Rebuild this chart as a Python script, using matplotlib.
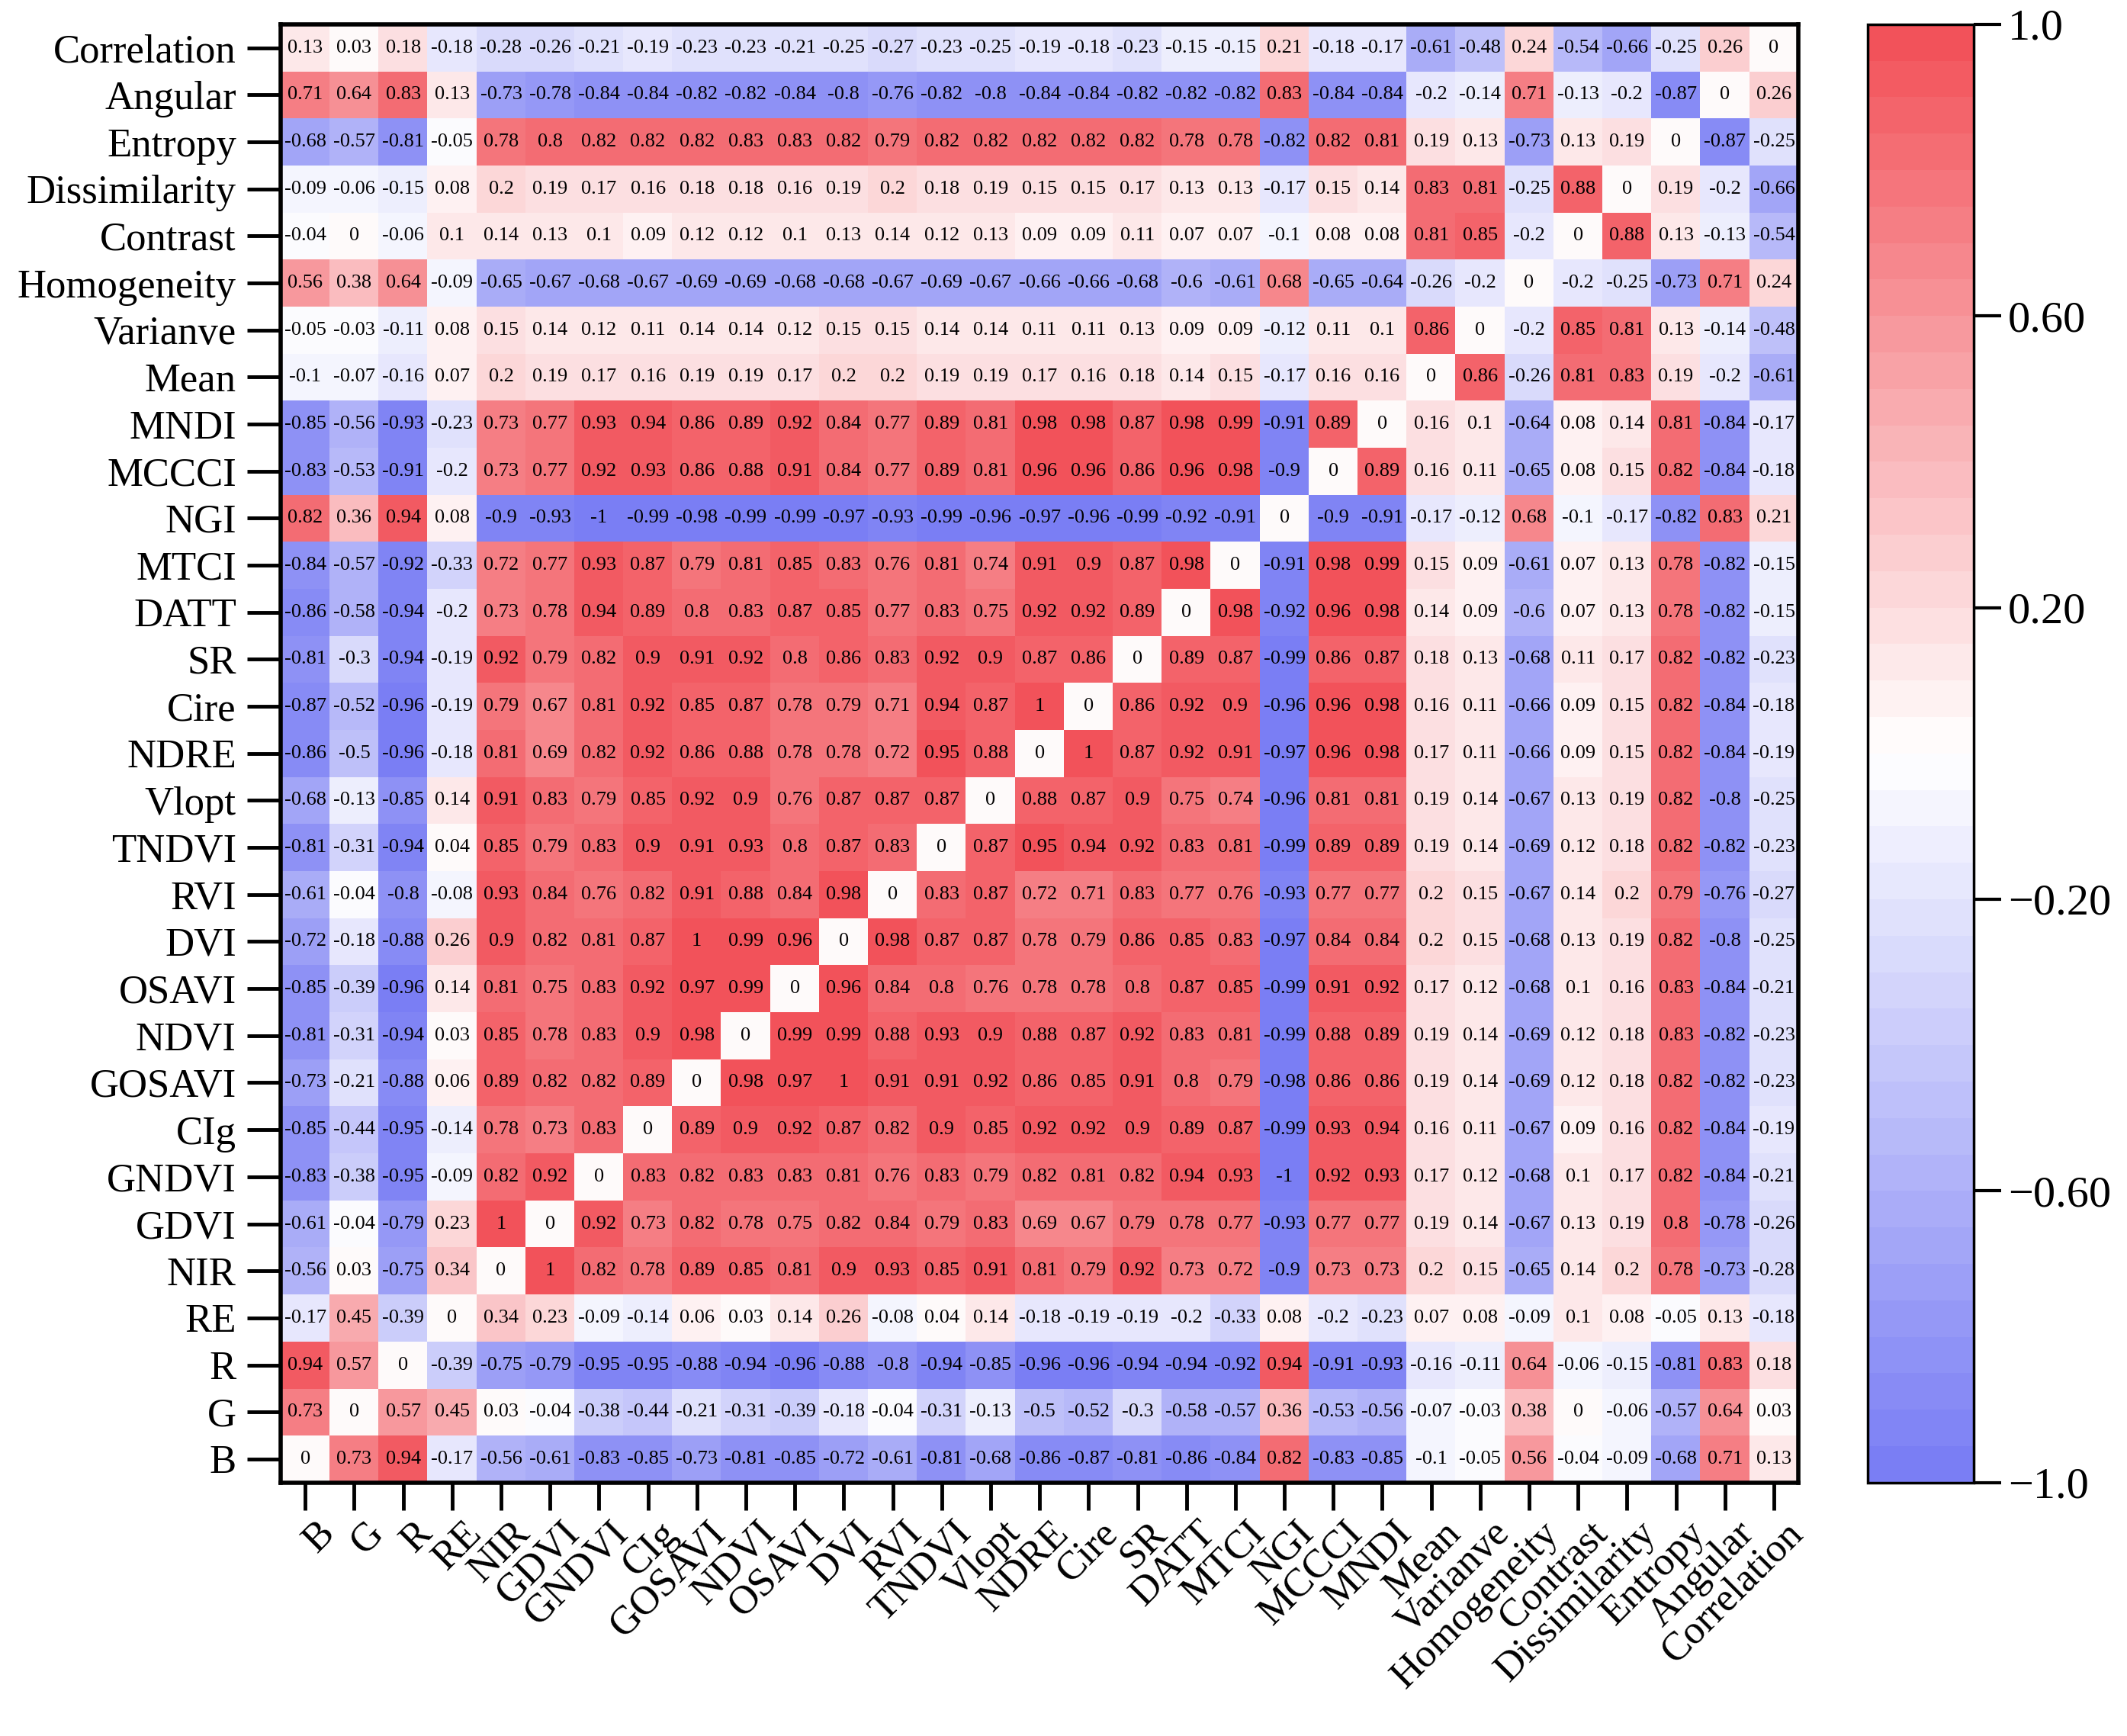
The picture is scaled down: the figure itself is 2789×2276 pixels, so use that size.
import numpy as np
import matplotlib
matplotlib.use('Agg')
import matplotlib.pyplot as plt
import matplotlib.transforms as mtransforms
from matplotlib.colors import LinearSegmentedColormap

# column order (left -> right), rows are shown in reverse (top -> bottom)
names = ['B', 'G', 'R', 'RE', 'NIR', 'GDVI', 'GNDVI', 'CIg', 'GOSAVI', 'NDVI',
         'OSAVI', 'DVI', 'RVI', 'TNDVI', 'Vlopt', 'NDRE', 'Cire', 'SR', 'DATT',
         'MTCI', 'NGI', 'MCCCI', 'MNDI', 'Mean', 'Varianve', 'Homogeneity',
         'Contrast', 'Dissimilarity', 'Entropy', 'Angular', 'Correlation']

# matrix rows, top to bottom as printed in the figure
r_correlation = [0.13, 0.03, 0.18, -0.18, -0.28, -0.26, -0.21, -0.19, -0.23, -0.23, -0.21, -0.25, -0.27, -0.23, -0.25, -0.19, -0.18, -0.23, -0.15, -0.15, 0.21, -0.18, -0.17, -0.61, -0.48, 0.24, -0.54, -0.66, -0.25, 0.26, 0]
r_angular = [0.71, 0.64, 0.83, 0.13, -0.73, -0.78, -0.84, -0.84, -0.82, -0.82, -0.84, -0.8, -0.76, -0.82, -0.8, -0.84, -0.84, -0.82, -0.82, -0.82, 0.83, -0.84, -0.84, -0.2, -0.14, 0.71, -0.13, -0.2, -0.87, 0, 0.26]
r_entropy = [-0.68, -0.57, -0.81, -0.05, 0.78, 0.8, 0.82, 0.82, 0.82, 0.83, 0.83, 0.82, 0.79, 0.82, 0.82, 0.82, 0.82, 0.82, 0.78, 0.78, -0.82, 0.82, 0.81, 0.19, 0.13, -0.73, 0.13, 0.19, 0, -0.87, -0.25]
r_dissim = [-0.09, -0.06, -0.15, 0.08, 0.2, 0.19, 0.17, 0.16, 0.18, 0.18, 0.16, 0.19, 0.2, 0.18, 0.19, 0.15, 0.15, 0.17, 0.13, 0.13, -0.17, 0.15, 0.14, 0.83, 0.81, -0.25, 0.88, 0, 0.19, -0.2, -0.66]
r_contrast = [-0.04, 0, -0.06, 0.1, 0.14, 0.13, 0.1, 0.09, 0.12, 0.12, 0.1, 0.13, 0.14, 0.12, 0.13, 0.09, 0.09, 0.11, 0.07, 0.07, -0.1, 0.08, 0.08, 0.81, 0.85, -0.2, 0, 0.88, 0.13, -0.13, -0.54]
r_homog = [0.56, 0.38, 0.64, -0.09, -0.65, -0.67, -0.68, -0.67, -0.69, -0.69, -0.68, -0.68, -0.67, -0.69, -0.67, -0.66, -0.66, -0.68, -0.6, -0.61, 0.68, -0.65, -0.64, -0.26, -0.2, 0, -0.2, -0.25, -0.73, 0.71, 0.24]
r_var = [-0.05, -0.03, -0.11, 0.08, 0.15, 0.14, 0.12, 0.11, 0.14, 0.14, 0.12, 0.15, 0.15, 0.14, 0.14, 0.11, 0.11, 0.13, 0.09, 0.09, -0.12, 0.11, 0.1, 0.86, 0, -0.2, 0.85, 0.81, 0.13, -0.14, -0.48]
r_mean = [-0.1, -0.07, -0.16, 0.07, 0.2, 0.19, 0.17, 0.16, 0.19, 0.19, 0.17, 0.2, 0.2, 0.19, 0.19, 0.17, 0.16, 0.18, 0.14, 0.15, -0.17, 0.16, 0.16, 0, 0.86, -0.26, 0.81, 0.83, 0.19, -0.2, -0.61]
r_mndi = [-0.85, -0.56, -0.93, -0.23, 0.73, 0.77, 0.93, 0.94, 0.86, 0.89, 0.92, 0.84, 0.77, 0.89, 0.81, 0.98, 0.98, 0.87, 0.98, 0.99, -0.91, 0.89, 0, 0.16, 0.1, -0.64, 0.08, 0.14, 0.81, -0.84, -0.17]
r_mccci = [-0.83, -0.53, -0.91, -0.2, 0.73, 0.77, 0.92, 0.93, 0.86, 0.88, 0.91, 0.84, 0.77, 0.89, 0.81, 0.96, 0.96, 0.86, 0.96, 0.98, -0.9, 0, 0.89, 0.16, 0.11, -0.65, 0.08, 0.15, 0.82, -0.84, -0.18]
r_ngi = [0.82, 0.36, 0.94, 0.08, -0.9, -0.93, -1, -0.99, -0.98, -0.99, -0.99, -0.97, -0.93, -0.99, -0.96, -0.97, -0.96, -0.99, -0.92, -0.91, 0, -0.9, -0.91, -0.17, -0.12, 0.68, -0.1, -0.17, -0.82, 0.83, 0.21]
r_mtci = [-0.84, -0.57, -0.92, -0.33, 0.72, 0.77, 0.93, 0.87, 0.79, 0.81, 0.85, 0.83, 0.76, 0.81, 0.74, 0.91, 0.9, 0.87, 0.98, 0, -0.91, 0.98, 0.99, 0.15, 0.09, -0.61, 0.07, 0.13, 0.78, -0.82, -0.15]
r_datt = [-0.86, -0.58, -0.94, -0.2, 0.73, 0.78, 0.94, 0.89, 0.8, 0.83, 0.87, 0.85, 0.77, 0.83, 0.75, 0.92, 0.92, 0.89, 0, 0.98, -0.92, 0.96, 0.98, 0.14, 0.09, -0.6, 0.07, 0.13, 0.78, -0.82, -0.15]
r_sr = [-0.81, -0.3, -0.94, -0.19, 0.92, 0.79, 0.82, 0.9, 0.91, 0.92, 0.8, 0.86, 0.83, 0.92, 0.9, 0.87, 0.86, 0, 0.89, 0.87, -0.99, 0.86, 0.87, 0.18, 0.13, -0.68, 0.11, 0.17, 0.82, -0.82, -0.23]
r_cire = [-0.87, -0.52, -0.96, -0.19, 0.79, 0.67, 0.81, 0.92, 0.85, 0.87, 0.78, 0.79, 0.71, 0.94, 0.87, 1, 0, 0.86, 0.92, 0.9, -0.96, 0.96, 0.98, 0.16, 0.11, -0.66, 0.09, 0.15, 0.82, -0.84, -0.18]
r_ndre = [-0.86, -0.5, -0.96, -0.18, 0.81, 0.69, 0.82, 0.92, 0.86, 0.88, 0.78, 0.78, 0.72, 0.95, 0.88, 0, 1, 0.87, 0.92, 0.91, -0.97, 0.96, 0.98, 0.17, 0.11, -0.66, 0.09, 0.15, 0.82, -0.84, -0.19]
r_vlopt = [-0.68, -0.13, -0.85, 0.14, 0.91, 0.83, 0.79, 0.85, 0.92, 0.9, 0.76, 0.87, 0.87, 0.87, 0, 0.88, 0.87, 0.9, 0.75, 0.74, -0.96, 0.81, 0.81, 0.19, 0.14, -0.67, 0.13, 0.19, 0.82, -0.8, -0.25]
r_tndvi = [-0.81, -0.31, -0.94, 0.04, 0.85, 0.79, 0.83, 0.9, 0.91, 0.93, 0.8, 0.87, 0.83, 0, 0.87, 0.95, 0.94, 0.92, 0.83, 0.81, -0.99, 0.89, 0.89, 0.19, 0.14, -0.69, 0.12, 0.18, 0.82, -0.82, -0.23]
r_rvi = [-0.61, -0.04, -0.8, -0.08, 0.93, 0.84, 0.76, 0.82, 0.91, 0.88, 0.84, 0.98, 0, 0.83, 0.87, 0.72, 0.71, 0.83, 0.77, 0.76, -0.93, 0.77, 0.77, 0.2, 0.15, -0.67, 0.14, 0.2, 0.79, -0.76, -0.27]
r_dvi = [-0.72, -0.18, -0.88, 0.26, 0.9, 0.82, 0.81, 0.87, 1, 0.99, 0.96, 0, 0.98, 0.87, 0.87, 0.78, 0.79, 0.86, 0.85, 0.83, -0.97, 0.84, 0.84, 0.2, 0.15, -0.68, 0.13, 0.19, 0.82, -0.8, -0.25]
r_osavi = [-0.85, -0.39, -0.96, 0.14, 0.81, 0.75, 0.83, 0.92, 0.97, 0.99, 0, 0.96, 0.84, 0.8, 0.76, 0.78, 0.78, 0.8, 0.87, 0.85, -0.99, 0.91, 0.92, 0.17, 0.12, -0.68, 0.1, 0.16, 0.83, -0.84, -0.21]
r_ndvi = [-0.81, -0.31, -0.94, 0.03, 0.85, 0.78, 0.83, 0.9, 0.98, 0, 0.99, 0.99, 0.88, 0.93, 0.9, 0.88, 0.87, 0.92, 0.83, 0.81, -0.99, 0.88, 0.89, 0.19, 0.14, -0.69, 0.12, 0.18, 0.83, -0.82, -0.23]
r_gosavi = [-0.73, -0.21, -0.88, 0.06, 0.89, 0.82, 0.82, 0.89, 0, 0.98, 0.97, 1, 0.91, 0.91, 0.92, 0.86, 0.85, 0.91, 0.8, 0.79, -0.98, 0.86, 0.86, 0.19, 0.14, -0.69, 0.12, 0.18, 0.82, -0.82, -0.23]
r_cig = [-0.85, -0.44, -0.95, -0.14, 0.78, 0.73, 0.83, 0, 0.89, 0.9, 0.92, 0.87, 0.82, 0.9, 0.85, 0.92, 0.92, 0.9, 0.89, 0.87, -0.99, 0.93, 0.94, 0.16, 0.11, -0.67, 0.09, 0.16, 0.82, -0.84, -0.19]
r_gndvi = [-0.83, -0.38, -0.95, -0.09, 0.82, 0.92, 0, 0.83, 0.82, 0.83, 0.83, 0.81, 0.76, 0.83, 0.79, 0.82, 0.81, 0.82, 0.94, 0.93, -1, 0.92, 0.93, 0.17, 0.12, -0.68, 0.1, 0.17, 0.82, -0.84, -0.21]
r_gdvi = [-0.61, -0.04, -0.79, 0.23, 1, 0, 0.92, 0.73, 0.82, 0.78, 0.75, 0.82, 0.84, 0.79, 0.83, 0.69, 0.67, 0.79, 0.78, 0.77, -0.93, 0.77, 0.77, 0.19, 0.14, -0.67, 0.13, 0.19, 0.8, -0.78, -0.26]
r_nir = [-0.56, 0.03, -0.75, 0.34, 0, 1, 0.82, 0.78, 0.89, 0.85, 0.81, 0.9, 0.93, 0.85, 0.91, 0.81, 0.79, 0.92, 0.73, 0.72, -0.9, 0.73, 0.73, 0.2, 0.15, -0.65, 0.14, 0.2, 0.78, -0.73, -0.28]
r_re = [-0.17, 0.45, -0.39, 0, 0.34, 0.23, -0.09, -0.14, 0.06, 0.03, 0.14, 0.26, -0.08, 0.04, 0.14, -0.18, -0.19, -0.19, -0.2, -0.33, 0.08, -0.2, -0.23, 0.07, 0.08, -0.09, 0.1, 0.08, -0.05, 0.13, -0.18]
r_r = [0.94, 0.57, 0, -0.39, -0.75, -0.79, -0.95, -0.95, -0.88, -0.94, -0.96, -0.88, -0.8, -0.94, -0.85, -0.96, -0.96, -0.94, -0.94, -0.92, 0.94, -0.91, -0.93, -0.16, -0.11, 0.64, -0.06, -0.15, -0.81, 0.83, 0.18]
r_g = [0.73, 0, 0.57, 0.45, 0.03, -0.04, -0.38, -0.44, -0.21, -0.31, -0.39, -0.18, -0.04, -0.31, -0.13, -0.5, -0.52, -0.3, -0.58, -0.57, 0.36, -0.53, -0.56, -0.07, -0.03, 0.38, 0, -0.06, -0.57, 0.64, 0.03]
r_b = [0, 0.73, 0.94, -0.17, -0.56, -0.61, -0.83, -0.85, -0.73, -0.81, -0.85, -0.72, -0.61, -0.81, -0.68, -0.86, -0.87, -0.81, -0.86, -0.84, 0.82, -0.83, -0.85, -0.1, -0.05, 0.56, -0.04, -0.09, -0.68, 0.71, 0.13]

rows = [r_correlation, r_angular, r_entropy, r_dissim, r_contrast, r_homog, r_var,
        r_mean, r_mndi, r_mccci, r_ngi, r_mtci, r_datt, r_sr, r_cire, r_ndre,
        r_vlopt, r_tndvi, r_rvi, r_dvi, r_osavi, r_ndvi, r_gosavi, r_cig,
        r_gndvi, r_gdvi, r_nir, r_re, r_r, r_g, r_b]
row_names = names[::-1]

cbar_ticks = [1.0, 0.6, 0.2, -0.2, -0.6, -1.0]
cbar_labels = ['1.0', '0.60', '0.20', '\u22120.20', '\u22120.60', '\u22121.0']

plt.rcParams['font.family'] = ['Liberation Serif', 'DejaVu Serif']

M = np.array(rows)
n = len(names)

cmap = LinearSegmentedColormap.from_list('bwr_soft', ['#7a7ef4', '#ffffff', '#f2525a'], N=40)

fig = plt.figure(figsize=(27.89, 22.76), dpi=100)
ax = fig.add_axes([0.132, 0.146, 0.7135, 0.840])
im = ax.imshow(M, cmap=cmap, vmin=-1, vmax=1, aspect='auto', interpolation='nearest')

# cell values
for i in range(n):
    for j in range(n):
        ax.text(j, i, f'{M[i, j]:g}', ha='center', va='center', fontsize=19, color='black')

ax.set_xticks(range(n))
ax.set_xticklabels(names, rotation=45, ha='right', va='top', rotation_mode='anchor', fontsize=38)
ax.set_yticks(range(n))
ax.set_yticklabels(row_names, fontsize=38)
ax.tick_params(axis='y', direction='out', length=32, width=3.5, pad=10)
ax.tick_params(axis='x', direction='out', length=26, width=3.5, pad=10)
for s in ax.spines.values():
    s.set_linewidth(4)

# x labels sit a little to the right of their ticks
shift = mtransforms.ScaledTranslation(0.14, 0.08, fig.dpi_scale_trans)
for lab in ax.get_xticklabels():
    lab.set_transform(lab.get_transform() + shift)

cax = fig.add_axes([0.878, 0.146, 0.050, 0.840])
cbar = fig.colorbar(im, cax=cax, ticks=cbar_ticks)
cbar.set_ticklabels(cbar_labels)
cbar.ax.tick_params(length=26, width=3, labelsize=42, pad=6)
cbar.outline.set_linewidth(2.5)

fig.savefig('out.png', dpi=100)
